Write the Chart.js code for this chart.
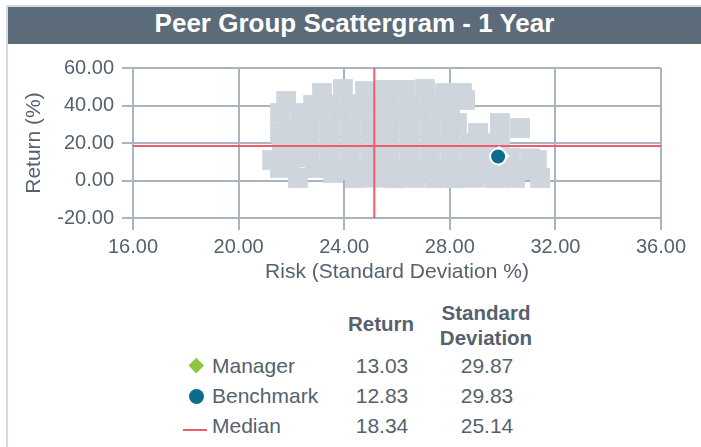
<!DOCTYPE html>
<html lang="en">
<head>
  <meta charset="UTF-8">
  <title>Peer Group Scattergram - 1 Year</title>
  <script src="https://cdn.jsdelivr.net/npm/chart.js"></script>
  <style>
    body {
      margin: 0;
      width: 701px;
      height: 447px;
      overflow: hidden;
      background: #fff;
      font-family: 'Liberation Sans', Arial, sans-serif;
      color: #55626e;
      position: relative;
    }
    #marco {
      position: absolute;
      left: 6px;
      top: 5px;
      right: 0;
      bottom: -10px;
      border-left: 2px solid #d5dadf;
      border-top: 2px solid #d5dadf;
    }
    #titulo {
      position: absolute;
      left: 8px;
      top: 7px;
      right: 0;
      height: 37px;
      line-height: 33px;
      background: #5b6b7a;
      color: #fff;
      font-weight: bold;
      font-size: 26px;
      text-align: center;
    }
    #contenedor {
      position: absolute;
      left: 0;
      top: 48px;
      width: 701px;
      height: 247px;
    }
    .celda {
      position: absolute;
      width: 130px;
      text-align: center;
      font-size: 21px;
      line-height: 21px;
      white-space: nowrap;
    }
    .cabecera {
      font-weight: bold;
      font-size: 20.5px;
      line-height: 20.5px;
    }
    .nombre {
      position: absolute;
      left: 212px;
      font-size: 21px;
      line-height: 21px;
      white-space: nowrap;
    }
    .marca {
      position: absolute;
    }
  </style>
</head>
<body>
  <div id="marco"></div>
  <div id="titulo">Peer Group Scattergram - 1 Year</div>

  <div id="contenedor">
    <canvas id="grafico"></canvas>
  </div>

  <div id="tabla"></div>

  <script>
    // ejes
    var xTicks = [16, 20, 24, 28, 32, 36];
    var yTicks = [-20, 0, 20, 40, 60];

    // resumen: manager, benchmark, mediana
    var nombres = ['Manager', 'Benchmark', 'Median'];
    var rentabilidad = [13.03, 12.83, 18.34];
    var desviacion = [29.87, 29.83, 25.14];

    // grupo de pares (riesgo, rentabilidad)
    var peerRisk = [
      21.27, 21.57, 21.57, 21.57, 21.80, 22.25, 22.82, 23.16, 23.95, 24.79, 25.55,
      26.30, 27.06, 27.82, 28.46, 28.58, 28.27, 29.07, 29.90, 30.66, 31.30, 31.42,
      22.89, 23.58, 24.41, 25.17, 25.92, 26.68, 27.44, 28.20, 28.95, 29.71, 30.47,
      22.33, 23.08, 23.84, 24.60, 25.36, 26.11, 26.87, 27.63,
      23.46, 24.22, 24.98, 25.73, 26.49, 27.25, 28.01,
      21.95, 22.70, 23.46, 24.22, 24.98, 25.73, 26.49, 27.25, 28.01,
      21.95, 22.70, 23.46, 24.22, 24.98, 25.73, 26.49, 27.25, 28.01, 28.77, 29.52, 29.90,
      21.64,
      21.95, 22.70, 23.46, 24.22, 24.98, 25.73, 26.49, 27.25, 28.01, 28.77, 29.52, 30.28, 31.04,
      24.22, 24.98, 25.73, 26.49, 27.25, 28.01, 28.77, 29.52, 30.28, 31.04
    ];
    var peerReturn = [
      10.93, 36.00, 25.33, 6.67, 42.40, 1.33, 40.27, 46.67, 48.80, 47.73, 48.27,
      48.27, 48.80, 46.67, 46.67, 42.93, 30.67, 25.33, 30.67, 28.00, 10.93, 1.33,
      6.67, 4.00, 1.33, 1.50, 1.20, 1.40, 1.33, 1.25, 1.45, 1.30, 1.35,
      36.00, 35.60, 36.20, 35.80, 36.10, 35.90, 36.30, 35.70,
      40.27, 40.80, 40.10, 40.50, 40.20, 40.60, 40.00,
      28.00, 28.40, 27.80, 28.20, 27.90, 28.30, 28.10, 27.70, 28.00,
      20.00, 20.30, 19.80, 20.10, 19.90, 20.20, 20.00, 19.70, 20.10, 20.00, 19.90, 20.20,
      18.40,
      12.00, 12.30, 11.80, 12.10, 11.90, 12.20, 12.00, 11.70, 12.10, 12.00, 11.90, 12.20, 11.80,
      5.60, 5.90, 5.40, 5.70, 5.50, 5.80, 5.60, 5.30, 5.70, 5.50
    ];

    var colorTexto = '#55626e';
    var colorRejilla = '#aab4be';
    var colorRojo = '#ef5b6b';
    var colorVerde = '#8dc63f';
    var colorAzul = '#0d6b8e';
    var colorPares = '#cfd5dc';

    Chart.defaults.font.family = "'Liberation Sans', Arial, sans-serif";
    Chart.defaults.color = colorTexto;

    var pares = peerRisk.map(function (r, i) {
      return { x: r, y: peerReturn[i] };
    });

    var xMin = xTicks[0], xMax = xTicks[xTicks.length - 1];
    var yMin = yTicks[0], yMax = yTicks[yTicks.length - 1];

    var ctx = document.getElementById('grafico').getContext('2d');
    var grafico = new Chart(ctx, {
      type: 'scatter',
      data: {
        datasets: [
          {
            label: nombres[1],
            data: [{ x: desviacion[1], y: rentabilidad[1] }],
            pointStyle: 'circle',
            pointRadius: 8,
            backgroundColor: colorAzul,
            borderColor: '#fff',
            borderWidth: 2
          },
          {
            label: nombres[0],
            data: [{ x: desviacion[0], y: rentabilidad[0] }],
            pointStyle: 'rectRot',
            pointRadius: 9,
            backgroundColor: colorVerde,
            borderColor: '#fff',
            borderWidth: 2
          },
          {
            label: nombres[2] + ' rentabilidad',
            data: [{ x: xMin, y: rentabilidad[2] }, { x: xMax, y: rentabilidad[2] }],
            showLine: true,
            pointRadius: 0,
            borderColor: colorRojo,
            borderWidth: 2
          },
          {
            label: nombres[2] + ' riesgo',
            data: [{ x: desviacion[2], y: yMin }, { x: desviacion[2], y: yMax }],
            showLine: true,
            pointRadius: 0,
            borderColor: colorRojo,
            borderWidth: 2
          },
          {
            label: 'Peer Group',
            data: pares,
            pointStyle: 'rect',
            pointRadius: 14,
            backgroundColor: colorPares,
            borderWidth: 0
          }
        ]
      },
      options: {
        responsive: true,
        maintainAspectRatio: false,
        animation: false,
        events: [],
        layout: { padding: { top: 0, right: 40, left: 0, bottom: 0 } },
        plugins: {
          legend: { display: false },
          tooltip: { enabled: false }
        },
        scales: {
          x: {
            type: 'linear',
            min: xMin,
            max: xMax,
            afterBuildTicks: function (s) {
              s.ticks = xTicks.map(function (v) { return { value: v }; });
            },
            afterFit: function (s) { s.height = 77; },
            ticks: {
              callback: function (v) { return Number(v).toFixed(2); },
              font: { size: 20 },
              color: colorTexto,
              padding: 5,
              maxRotation: 0,
              autoSkip: false
            },
            grid: { color: colorRejilla, lineWidth: 2, tickLength: 12 },
            border: { color: colorRejilla, width: 2 },
            title: {
              display: true,
              text: 'Risk (Standard Deviation %)',
              font: { size: 21 },
              color: colorTexto,
              padding: { top: 0, bottom: 10 }
            }
          },
          y: {
            type: 'linear',
            min: yMin,
            max: yMax,
            afterBuildTicks: function (s) {
              s.ticks = yTicks.map(function (v) { return { value: v }; });
            },
            afterFit: function (s) { s.width = 133; },
            ticks: {
              callback: function (v) { return Number(v).toFixed(2); },
              font: { size: 20 },
              color: colorTexto,
              padding: 8
            },
            grid: { color: colorRejilla, lineWidth: 2, tickLength: 11 },
            border: { color: colorRejilla, width: 2 },
            title: {
              display: true,
              text: 'Return (%)',
              font: { size: 21 },
              color: colorTexto,
              padding: { top: 22, bottom: 0 }
            }
          }
        }
      }
    });

    // tabla de resumen
    function celda(texto, centro, arriba, clase) {
      var d = document.createElement('div');
      d.className = 'celda' + (clase ? ' ' + clase : '');
      d.style.left = (centro - 65) + 'px';
      d.style.top = arriba + 'px';
      d.textContent = texto;
      document.getElementById('tabla').appendChild(d);
    }

    celda('Return', 381, 313.6, 'cabecera');
    celda('Standard', 486, 302.6, 'cabecera');
    celda('Deviation', 486, 327.6, 'cabecera');

    var filasTop = [355.2, 385.2, 415.2];
    var tabla = document.getElementById('tabla');
    for (var i = 0; i < nombres.length; i++) {
      var n = document.createElement('div');
      n.className = 'nombre';
      n.style.top = filasTop[i] + 'px';
      n.textContent = nombres[i];
      tabla.appendChild(n);
      celda(rentabilidad[i].toFixed(2), 382, filasTop[i]);
      celda(desviacion[i].toFixed(2), 487, filasTop[i]);
    }

    // marcas de la tabla
    var diamante = document.createElement('div');
    diamante.className = 'marca';
    diamante.style.cssText = 'left:191px;top:360px;width:10.5px;height:10.5px;background:' + colorVerde + ';transform:rotate(45deg);';
    tabla.appendChild(diamante);

    var circulo = document.createElement('div');
    circulo.className = 'marca';
    circulo.style.cssText = 'left:188.5px;top:388.5px;width:15px;height:15px;border-radius:50%;background:' + colorAzul + ';';
    tabla.appendChild(circulo);

    var linea = document.createElement('div');
    linea.className = 'marca';
    linea.style.cssText = 'left:183px;top:429px;width:24px;height:1.5px;background:' + colorRojo + ';';
    tabla.appendChild(linea);
  </script>
</body>
</html>
